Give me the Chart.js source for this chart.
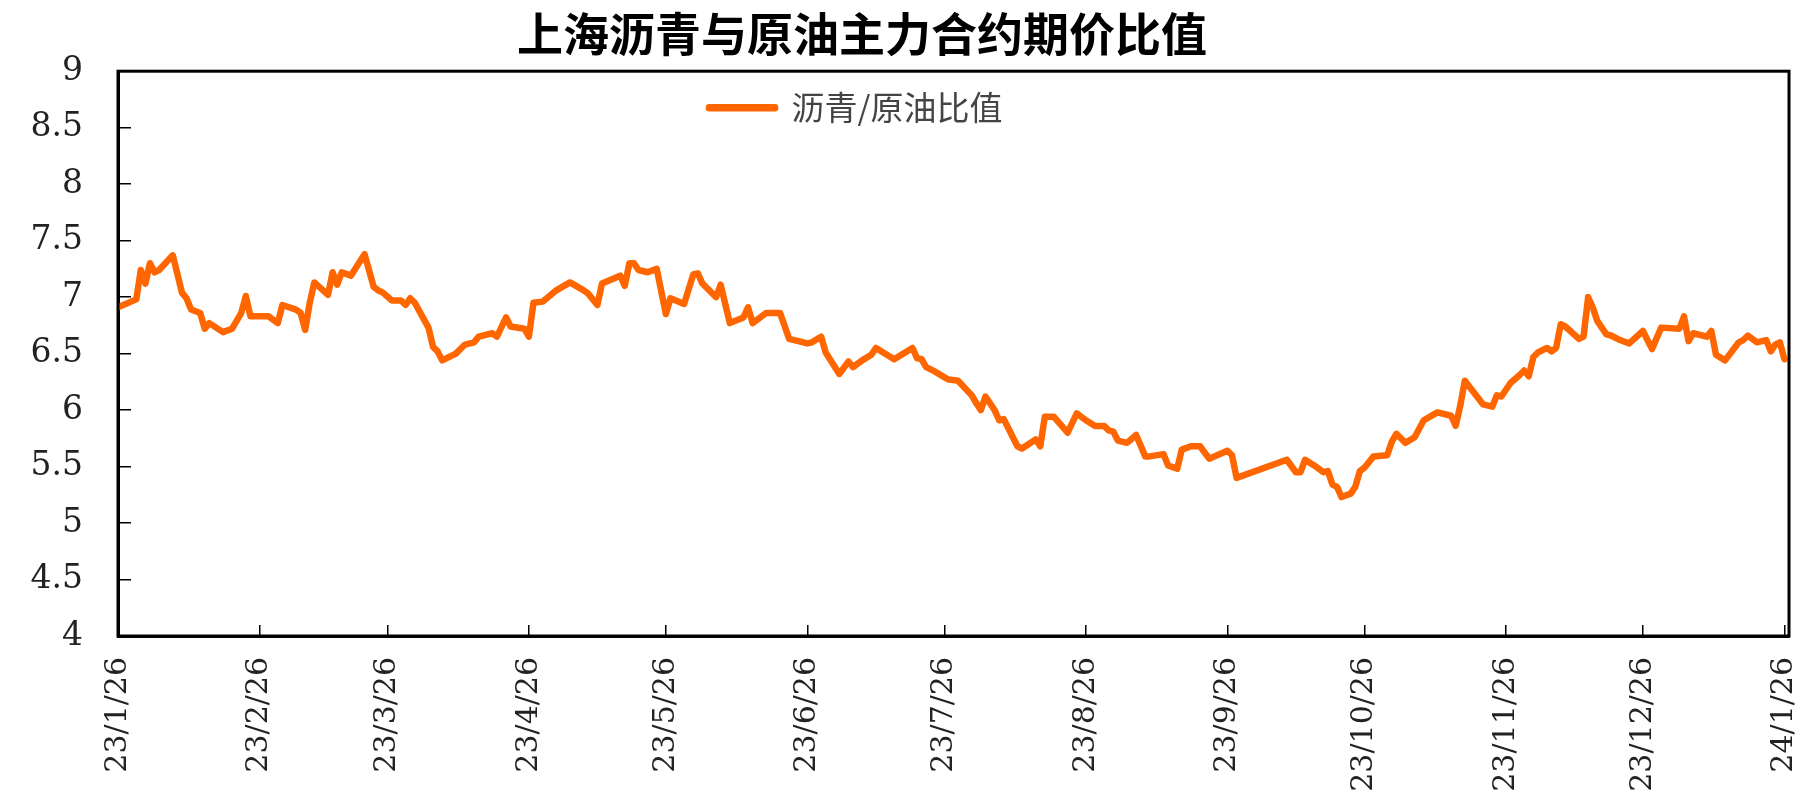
<!DOCTYPE html>
<html>
<head>
<meta charset="utf-8">
<script src="https://cdn.jsdelivr.net/npm/chart.js@4.4.1/dist/chart.umd.min.js"></script>
<style>
html,body{margin:0;padding:0;background:#fff;}
#wrap{width:1814px;height:793px;position:relative;}
</style>
</head>
<body>
<div id="wrap"><canvas id="c"></canvas></div>
<script>
// ---------------- data ----------------
const chartTitle = '上海沥青与原油主力合约期价比值';
const seriesName = '沥青/原油比值';
const dayZero = '2023-01-26';
const xMaxDay = 366;
const yMin = 4, yMax = 9, yStep = 0.5;

const dates = [
'2023-01-26','2023-01-30','2023-01-31','2023-02-01','2023-02-02','2023-02-03','2023-02-04','2023-02-07','2023-02-09','2023-02-10','2023-02-11','2023-02-13','2023-02-14','2023-02-15','2023-02-18','2023-02-20','2023-02-22','2023-02-23','2023-02-24','2023-02-28',
'2023-03-02','2023-03-03','2023-03-06','2023-03-07','2023-03-08','2023-03-09','2023-03-10','2023-03-13','2023-03-14','2023-03-15','2023-03-16','2023-03-18','2023-03-21','2023-03-23','2023-03-24','2023-03-25','2023-03-27','2023-03-29','2023-03-30','2023-03-31',
'2023-04-01','2023-04-04','2023-04-05','2023-04-06','2023-04-07','2023-04-10','2023-04-12','2023-04-14','2023-04-15','2023-04-18','2023-04-19','2023-04-21','2023-04-22','2023-04-25','2023-04-26','2023-04-27','2023-04-29',
'2023-05-02','2023-05-05','2023-05-08','2023-05-09','2023-05-11','2023-05-12','2023-05-16','2023-05-17','2023-05-18','2023-05-19','2023-05-20','2023-05-22','2023-05-24','2023-05-26','2023-05-27','2023-05-30',
'2023-06-01','2023-06-02','2023-06-03','2023-06-06','2023-06-07','2023-06-09','2023-06-12','2023-06-13','2023-06-14','2023-06-17','2023-06-20','2023-06-22','2023-06-26','2023-06-27','2023-06-29','2023-06-30',
'2023-07-03','2023-07-05','2023-07-06','2023-07-08','2023-07-10','2023-07-11','2023-07-15','2023-07-19','2023-07-20','2023-07-21','2023-07-22','2023-07-24','2023-07-26','2023-07-27','2023-07-29',
'2023-08-01','2023-08-02','2023-08-03','2023-08-04','2023-08-06','2023-08-07','2023-08-08','2023-08-11','2023-08-12','2023-08-15','2023-08-16','2023-08-17','2023-08-19','2023-08-22','2023-08-24','2023-08-26','2023-08-28','2023-08-30','2023-08-31',
'2023-09-01','2023-09-02','2023-09-04','2023-09-06','2023-09-08','2023-09-09','2023-09-12','2023-09-13','2023-09-15','2023-09-16','2023-09-18','2023-09-20','2023-09-22','2023-09-26','2023-09-27','2023-09-28',
'2023-10-09','2023-10-11','2023-10-12','2023-10-13','2023-10-15','2023-10-17','2023-10-18','2023-10-19','2023-10-20','2023-10-21','2023-10-23','2023-10-24','2023-10-25','2023-10-26','2023-10-28','2023-10-31',
'2023-11-01','2023-11-02','2023-11-04','2023-11-06','2023-11-08','2023-11-11','2023-11-14','2023-11-15','2023-11-16','2023-11-17','2023-11-21','2023-11-23','2023-11-24','2023-11-25','2023-11-27','2023-11-29','2023-11-30',
'2023-12-01','2023-12-02','2023-12-03','2023-12-05','2023-12-06','2023-12-07','2023-12-08','2023-12-09','2023-12-12','2023-12-13','2023-12-14','2023-12-15','2023-12-16','2023-12-18','2023-12-19','2023-12-21','2023-12-23','2023-12-26','2023-12-28','2023-12-30',
'2024-01-03','2024-01-04','2024-01-05','2024-01-06','2024-01-09','2024-01-10','2024-01-11','2024-01-13','2024-01-16','2024-01-17','2024-01-18','2024-01-20','2024-01-22','2024-01-23','2024-01-24','2024-01-25','2024-01-26'
];

const ratioValues = [
6.91,6.98,7.24,7.12,7.30,7.22,7.24,7.37,7.04,6.99,6.89,6.86,6.72,6.77,6.69,6.72,6.86,7.01,6.83,6.83,
6.77,6.93,6.89,6.86,6.71,6.95,7.13,7.02,7.22,7.11,7.22,7.19,7.38,7.09,7.06,7.04,6.97,6.97,6.93,6.99,
6.95,6.73,6.56,6.52,6.44,6.50,6.58,6.60,6.65,6.68,6.65,6.82,6.74,6.72,6.65,6.95,6.96,
7.06,7.13,7.06,7.03,6.93,7.12,7.19,7.10,7.30,7.30,7.24,7.22,7.25,6.85,6.99,6.94,
7.20,7.21,7.12,7.00,7.11,6.77,6.82,6.91,6.77,6.86,6.86,6.63,6.59,6.60,6.65,6.51,
6.32,6.43,6.38,6.44,6.49,6.55,6.45,6.55,6.46,6.45,6.38,6.34,6.29,6.27,6.26,
6.13,6.06,6.00,6.12,6.00,5.91,5.92,5.68,5.66,5.74,5.68,5.94,5.94,5.80,5.97,5.91,5.86,5.86,5.82,
5.81,5.73,5.71,5.78,5.59,5.59,5.61,5.51,5.48,5.65,5.68,5.68,5.57,5.64,5.60,5.40,
5.56,5.45,5.45,5.56,5.51,5.45,5.46,5.34,5.32,5.23,5.26,5.32,5.46,5.49,5.59,5.60,
5.72,5.79,5.71,5.76,5.91,5.98,5.95,5.86,6.04,6.26,6.05,6.03,6.13,6.12,6.24,6.31,6.35,
6.30,6.47,6.51,6.55,6.52,6.55,6.76,6.74,6.63,6.65,7.00,6.91,6.79,6.67,6.66,6.62,6.59,6.70,6.54,6.73,
6.72,6.83,6.61,6.68,6.65,6.70,6.49,6.44,6.60,6.62,6.66,6.60,6.62,6.52,6.58,6.60,6.45
];

const xTickDates = ['2023-01-26','2023-02-26','2023-03-26','2023-04-26','2023-05-26','2023-06-26','2023-07-26','2023-08-26','2023-09-26','2023-10-26','2023-11-26','2023-12-26','2024-01-26'];
const xTickLabels = ['23/1/26','23/2/26','23/3/26','23/4/26','23/5/26','23/6/26','23/7/26','23/8/26','23/9/26','23/10/26','23/11/26','23/12/26','24/1/26'];

// ---------------- helpers ----------------
function dayOffset(s) {
  return Math.round((Date.parse(s) - Date.parse(dayZero)) / 86400000);
}
const points = dates.map((d, i) => ({ x: dayOffset(d), y: ratioValues[i] }));

const layoutPlugin = {
  id: 'layoutTweak',
  afterLayout(chart) {
    const ca = chart.chartArea;
    const t = chart.titleBlock;
    if (t) {
      const dx = 862 - (t.left + t.right) / 2;
      t.left += dx; t.right += dx;
    }
    const lg = chart.legend;
    if (lg) {
      const pad = lg.options.labels.padding;
      const h = lg.height, w = lg.width;
      lg.left = 709 - pad; lg.right = lg.left + w;
      lg.top = ca.top; lg.bottom = ca.top + h;
    }
  },
  afterDatasetsDraw(chart) {
    const { ctx, chartArea: a } = chart;
    ctx.save();
    ctx.strokeStyle = '#000';
    ctx.lineWidth = 3;
    ctx.strokeRect(a.left, a.top, a.right - a.left, a.bottom - a.top);
    ctx.restore();
  }
};

Chart.defaults.font.family = 'DejaVu Serif';
Chart.defaults.color = '#222';

new Chart(document.getElementById('c'), {
  type: 'line',
  data: {
    datasets: [{
      label: seriesName,
      data: points,
      borderColor: '#FF6600',
      backgroundColor: '#FF6600',
      borderWidth: 6.5,
      pointRadius: 0,
      tension: 0,
      borderJoinStyle: 'round',
      borderCapStyle: 'round'
    }]
  },
  options: {
    responsive: true,
    maintainAspectRatio: false,
    animation: false,
    devicePixelRatio: 1,
    layout: { padding: { left: 0, right: 25, top: 0, bottom: 0 } },
    plugins: {
      title: {
        display: true,
        text: chartTitle,
        color: '#000',
        font: { family: 'Noto Sans CJK SC', size: 46, weight: 'bold' },
        padding: { top: 6, bottom: 10 }
      },
      legend: {
        display: true,
        position: 'chartArea',
        align: 'start',
        labels: {
          boxWidth: 66,
          boxHeight: 1,
          padding: 20,
          color: '#444',
          font: { family: 'Noto Sans CJK SC', size: 33 }
        }
      },
      tooltip: { enabled: false }
    },
    scales: {
      x: {
        type: 'linear',
        min: 0,
        max: xMaxDay,
        afterBuildTicks: s => { s.ticks = xTickDates.map(d => ({ value: dayOffset(d) })); },
        afterFit: s => { s.height = 157; s.paddingLeft = 0; s.paddingRight = 0; },
        ticks: {
          autoSkip: false,
          maxRotation: 90,
          minRotation: 90,
          padding: 32,
          color: '#222',
          font: { family: 'DejaVu Serif', size: 30 },
          callback: (v, i) => xTickLabels[i]
        },
        grid: { drawOnChartArea: false, drawTicks: true, tickLength: -11, color: '#000', lineWidth: 1.5 },
        border: { display: true, color: '#000', width: 3 }
      },
      y: {
        min: yMin,
        max: yMax,
        afterFit: s => { s.width = 118; },
        ticks: {
          stepSize: yStep,
          padding: 48,
          color: '#222',
          font: { family: 'DejaVu Serif', size: 33 },
          callback: v => String(v)
        },
        grid: { drawOnChartArea: false, drawTicks: true, tickLength: -13, color: '#000', lineWidth: 1.5 },
        border: { display: true, color: '#000', width: 3 }
      }
    }
  },
  plugins: [layoutPlugin]
});
</script>
</body>
</html>
